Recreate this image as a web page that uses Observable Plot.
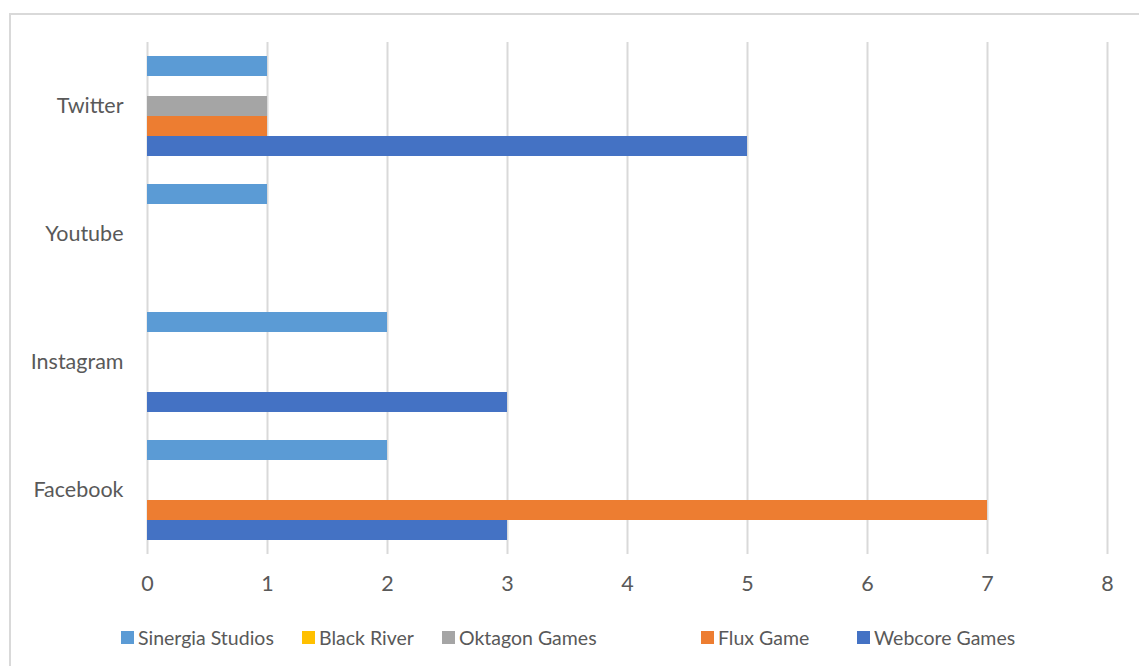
<!DOCTYPE html>
<html>
<head>
<meta charset="utf-8">
<script src="https://cdn.jsdelivr.net/npm/d3@7"></script>
<script src="https://cdn.jsdelivr.net/npm/@observablehq/plot@0.6"></script>
<style>
  html, body { margin: 0; padding: 0; background: #fff; overflow: hidden; }
  #wrap { position: relative; width: 1139px; height: 666px; overflow: hidden; font-family: Lato, "Open Sans", sans-serif; }
  #border { position: absolute; left: 9px; top: 13px; width: 1200px; height: 700px; border: 2px solid #d9d9d9; box-sizing: border-box; }
  #chart { position: absolute; left: 0; top: 0; }
  #chart svg text { font-size: 21.5px; fill: #595959; }
  #legend { position: absolute; left: 0; width: 1139px; top: 624px; height: 26px; font-size: 19.5px; color: #595959; }
  .item { position: absolute; top: 0; height: 26px; display: flex; align-items: center; white-space: nowrap; }
  .sw { width: 13px; height: 13px; margin-right: 4px; display: inline-block; }
</style>
</head>
<body>
<div id="wrap">
  <div id="border"></div>
  <div id="chart"></div>
  <div id="legend"></div>
</div>
<script>
const categories = ["Twitter", "Youtube", "Instagram", "Facebook"];
const series = ["Sinergia Studios", "Black River", "Oktagon Games", "Flux Game", "Webcore Games"];
const colors = ["#5B9BD5", "#FFC000", "#A5A5A5", "#ED7D31", "#4472C4"];
// values per series, in the order of categories
const sinergiaStudios = [1, 1, 2, 2];
const blackRiver = [0, 0, 0, 0];
const oktagonGames = [1, 0, 0, 0];
const fluxGame = [1, 0, 0, 7];
const webcoreGames = [5, 0, 3, 3];
const seriesValues = [sinergiaStudios, blackRiver, oktagonGames, fluxGame, webcoreGames];
const xTicks = [0, 1, 2, 3, 4, 5, 6, 7, 8];

const data = categories.flatMap((c, i) =>
  series.map((s, j) => ({category: c, series: s, value: seriesValues[j][i]}))
);

const chart = Plot.plot({
  width: 1139,
  height: 600,
  marginLeft: 147,
  marginRight: 32,
  marginTop: 42,
  marginBottom: 46,
  style: {fontFamily: "Lato, 'Open Sans', sans-serif", fontSize: "21.5px", color: "#595959", background: "transparent"},
  facet: {data, y: "category", marginTop: 0, marginBottom: 0, marginLeft: 0, marginRight: 0},
  x: {domain: [0, 8], ticks: xTicks, tickSize: 0, tickPadding: 21, label: null, tickFormat: d => String(d)},
  y: {domain: series, axis: null, paddingInner: 0, paddingOuter: 0.7},
  fy: {domain: categories, axis: "left", paddingInner: 0, paddingOuter: 0, tickSize: 0, tickPadding: 24, label: null},
  color: {domain: series, range: colors},
  marks: [
    Plot.ruleX(xTicks, {stroke: "#d9d9d9", strokeWidth: 2}),
    Plot.barX(data, {x: "value", y: "series", fill: "series", filter: d => d.value > 0})
  ]
});
document.getElementById("chart").appendChild(chart);

// legend item left edges (layout, Excel-style columns)
const legendLeft = [121, 302, 442, 701, 857];
const legend = document.getElementById("legend");
series.forEach((s, i) => {
  const item = document.createElement("div");
  item.className = "item";
  item.style.left = legendLeft[i] + "px";
  const sw = document.createElement("span");
  sw.className = "sw";
  sw.style.background = colors[i];
  const t = document.createElement("span");
  t.textContent = s;
  item.appendChild(sw);
  item.appendChild(t);
  legend.appendChild(item);
});
</script>
</body>
</html>
